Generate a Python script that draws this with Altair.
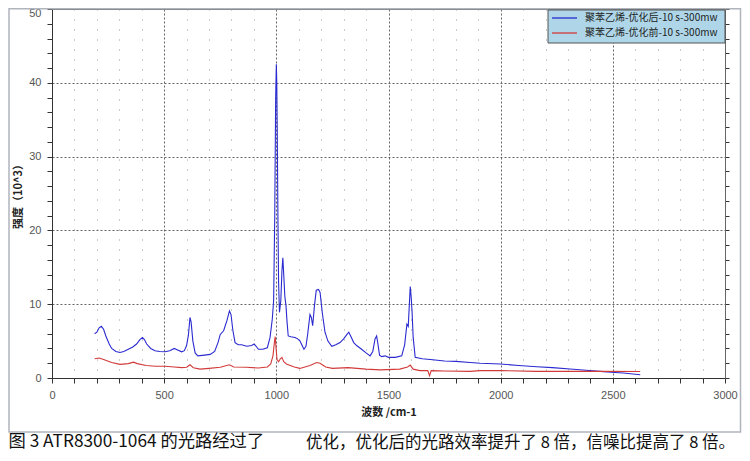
import altair as alt
import pandas as pd

# ---------------- data ----------------
blue_name = "聚苯乙烯-优化后-10 s-300mw"
red_name = "聚苯乙烯-优化前-10 s-300mw"
series_names = [blue_name, red_name]
series_colors = ["#2a2ad0", "#d23a3a"]

blue_x = [190, 200, 210, 220, 230, 240, 255, 266, 285, 303, 320, 340, 360, 377, 392, 403, 412, 422,
          440, 459, 480, 504, 525, 545, 560, 578, 590, 600, 608, 615, 620, 628, 638, 650, 680, 705,
          725, 740, 750, 765, 780, 791, 798, 806, 816, 830, 845, 868, 890, 901, 910, 920, 940, 960,
          972, 982, 988, 993, 997, 1000, 1002, 1004, 1007, 1010, 1014, 1020, 1025, 1029, 1033, 1038,
          1043, 1048, 1053, 1065, 1083, 1095, 1105, 1115, 1123, 1132, 1140, 1150, 1156, 1162, 1170,
          1178, 1188, 1195, 1205, 1217, 1230, 1247, 1265, 1284, 1300, 1315, 1323, 1333, 1345, 1358,
          1380, 1400, 1418, 1430, 1440, 1447, 1453, 1460, 1470, 1485, 1500, 1530, 1559, 1572, 1582,
          1588, 1593, 1597, 1601, 1605, 1610, 1619, 1650, 1686, 1750, 1800, 1864, 1909, 2000, 2080,
          2161, 2230, 2310, 2380, 2458, 2510, 2547, 2590, 2622]
blue_y = [6.0, 6.2, 6.8, 7.0, 6.6, 5.7, 4.6, 4.0, 3.6, 3.45, 3.6, 3.9, 4.2, 4.6, 5.2, 5.5, 5.2, 4.6,
          4.0, 3.7, 3.6, 3.55, 3.7, 4.0, 3.8, 3.55, 3.7, 4.4, 5.8, 8.2, 7.6, 5.0, 3.4, 3.0, 3.1, 3.2,
          3.6, 4.8, 5.9, 6.4, 7.8, 9.1, 8.6, 6.5, 4.8, 4.5, 4.5, 4.3, 4.4, 4.6, 4.3, 3.9, 3.9, 4.1,
          5.5, 8.0, 10.5, 22, 38, 42.5, 40, 33.9, 22, 13, 8.9, 10.5, 14.5, 16.3, 14, 11,
          9.8, 7.5, 5.7, 5.6, 5.5, 5.3, 5.05, 4.4, 3.9, 4.3, 6.0, 8.6, 8.2, 7.1, 9.8,
          11.9, 12.0, 11.6, 8.8, 6.2, 5.0, 4.3, 4.5, 4.8, 5.3, 5.9, 6.2, 5.6, 4.8, 4.4,
          3.9, 3.4, 3.0, 3.6, 5.3, 5.7, 4.6, 3.1, 2.9, 3.0, 2.8, 2.8, 3.0, 4.5, 7.3,
          7.0, 10.0, 12.4, 11.0, 9.0, 5.5, 2.8, 2.6, 2.5, 2.3, 2.25, 2.1, 2.0, 1.9, 1.7,
          1.53, 1.4, 1.22, 1.05, 0.86, 0.75, 0.67, 0.55, 0.45]

red_x = [190, 210, 230, 266, 303, 340, 363, 380, 420, 460, 504, 545, 578, 600, 615, 630, 660, 700,
         750, 791, 810, 868, 920, 960, 975, 985, 992, 995, 999, 1003, 1010, 1018, 1025, 1033, 1045,
         1080, 1105, 1150, 1180, 1195, 1220, 1250, 1320, 1400, 1463, 1550, 1585, 1597, 1610, 1640,
         1675, 1683, 1690, 1750, 1864, 1909, 2000, 2161, 2310, 2458, 2622]
red_y = [2.6, 2.7, 2.5, 2.1, 1.85, 1.95, 2.15, 1.95, 1.7, 1.6, 1.6, 1.5, 1.4, 1.45, 1.8, 1.4, 1.2, 1.3,
         1.45, 1.8, 1.5, 1.45, 1.35, 1.5, 1.9, 3.0, 5.0, 5.6, 4.0, 2.5, 2.2, 2.6, 2.8, 2.2, 1.9,
         1.5, 1.3, 1.7, 2.1, 2.0, 1.5, 1.3, 1.4, 1.2, 1.1, 1.2, 1.5, 1.75, 1.2, 1.0,
         1.0, 0.3, 1.0, 0.95, 0.9, 1.0, 1.0, 0.9, 0.9, 0.9, 0.88]

x_ticks = list(range(0, 3001, 100))
y_ticks = list(range(0, 51, 2))

x_title = "波数 /cm-1"
y_title = "强度（10^3）"
caption_1 = "图 3 ATR8300-1064 的光路经过了"
caption_2 = "优化，优化后的光路效率提升了 8 倍，信噪比提高了 8 倍。"

# ---------------- build ----------------
df = pd.concat([
    pd.DataFrame({"x": blue_x, "y": blue_y, "s": blue_name, "o": range(len(blue_x))}),
    pd.DataFrame({"x": red_x, "y": red_y, "s": red_name, "o": range(len(red_x))}),
])

W, H = 673, 369
FONT = "Liberation Sans"
CJK = "Noto Sans CJK SC"

x_scale = alt.Scale(domain=[0, 3000], nice=False)
y_scale = alt.Scale(domain=[0, 50], nice=False)

x_axis = alt.Axis(
    values=x_ticks, format="d",
    labelExpr="datum.value % 500 === 0 ? datum.label : ''",
    title=x_title, titleFont=CJK, titleFontSize=11, titleFontWeight="bold", titleColor="#222",
    titlePadding=6,
    labelFont=FONT, labelFontSize=11, labelColor="#555", labelPadding=6, labelFlush=False,
    tickSize=5, tickColor="#333", domainColor="#333",
    grid=True,
    gridDash={"condition": {"test": "datum.value % 500 === 0", "value": [2, 2]}, "value": [1, 9]},
    gridColor={"condition": {"test": "datum.value % 500 === 0", "value": "#666"}, "value": "#999"},
    gridOpacity={"condition": {"test": "datum.value === 0 || datum.value === 3000", "value": 0}, "value": 1},
    labelOverlap=False,
)
y_axis = alt.Axis(
    values=y_ticks, format="d",
    labelExpr="datum.value % 10 === 0 ? datum.label : ''",
    title=y_title, titleFont=CJK, titleFontSize=11, titleFontWeight="bold", titleColor="#222",
    titlePadding=5,
    labelFont=FONT, labelFontSize=11, labelColor="#555", labelPadding=6, labelFlush=False,
    labelBaseline={"condition": {"test": "datum.value === 50", "value": "top"}, "value": "middle"},
    labelOffset={"condition": {"test": "datum.value === 50", "value": -1.5}, "value": 0},
    tickSize=5, tickColor="#333", domainColor="#333",
    grid=True, gridDash=[2, 2], gridColor="#666",
    gridOpacity={"condition": {"test": "datum.value % 10 === 0 && datum.value > 0 && datum.value < 50", "value": 1}, "value": 0},
    labelOverlap=False,
)
y_axis_right = alt.Axis(
    orient="right", values=y_ticks, labels=False, title=None, grid=False,
    tickSize=4, tickColor="#333", domainColor="#666",
)

lines = alt.Chart(df).mark_line(strokeWidth=1.1, interpolate="linear").encode(
    x=alt.X("x:Q", scale=x_scale, axis=x_axis),
    y=alt.Y("y:Q", scale=y_scale, axis=y_axis),
    color=alt.Color("s:N", scale=alt.Scale(domain=series_names, range=series_colors), legend=None),
    order="o:Q",
)
right_ticks = alt.Chart(df).mark_point(opacity=0).encode(
    x=alt.X("x:Q", scale=x_scale, axis=x_axis),
    y=alt.Y("y:Q", scale=y_scale, axis=y_axis_right),
)

one = pd.DataFrame({"a": [0]})

# outer frame
border = alt.Chart(one).mark_rect(fillOpacity=0, stroke="#b0b4bc", strokeWidth=1.5).encode(
    x=alt.value(-43), x2=alt.value(688.5), y=alt.value(-0.3), y2=alt.value(423)
)

# legend box (drawn by hand so the rows are as tight as the reference)
leg_box = alt.Chart(one).mark_rect(fill="#aed6e8", stroke="#555", strokeWidth=1).encode(
    x=alt.value(496), x2=alt.value(673), y=alt.value(1), y2=alt.value(34)
)
leg_layers = []
for i, (name, col) in enumerate(zip(series_names, series_colors)):
    yy = 9 + 15 * i
    leg_layers.append(
        alt.Chart(one).mark_rule(color=col, strokeWidth=1.3).encode(
            x=alt.value(500), x2=alt.value(525), y=alt.value(yy)
        )
    )
    leg_layers.append(
        alt.Chart(one).mark_text(align="left", baseline="middle", font=CJK, fontSize=10,
                                 color="#222", text=name).encode(
            x=alt.value(533), y=alt.value(yy)
        )
    )

cap1 = alt.Chart(one).mark_text(align="left", baseline="bottom", font=CJK, fontSize=17.3,
                                color="#111", text=caption_1).encode(
    x=alt.value(-43.5), y=alt.value(442)
)
cap2 = alt.Chart(one).mark_text(align="left", baseline="bottom", font=CJK, fontSize=16.5,
                                color="#111", text=caption_2).encode(
    x=alt.value(254), y=alt.value(442)
)

chart = alt.layer(border, lines, right_ticks, leg_box, *leg_layers, cap1, cap2).resolve_axis(
    y="independent"
).properties(
    width=W, height=H,
    autosize=alt.AutoSizeParams(type="none"),
    padding={"left": 44, "top": 1, "right": 17, "bottom": 75},
    background="white",
).configure_view(stroke="#666", strokeWidth=1)

chart.save("out.html", embed_options={"renderer": "svg", "actions": False})
